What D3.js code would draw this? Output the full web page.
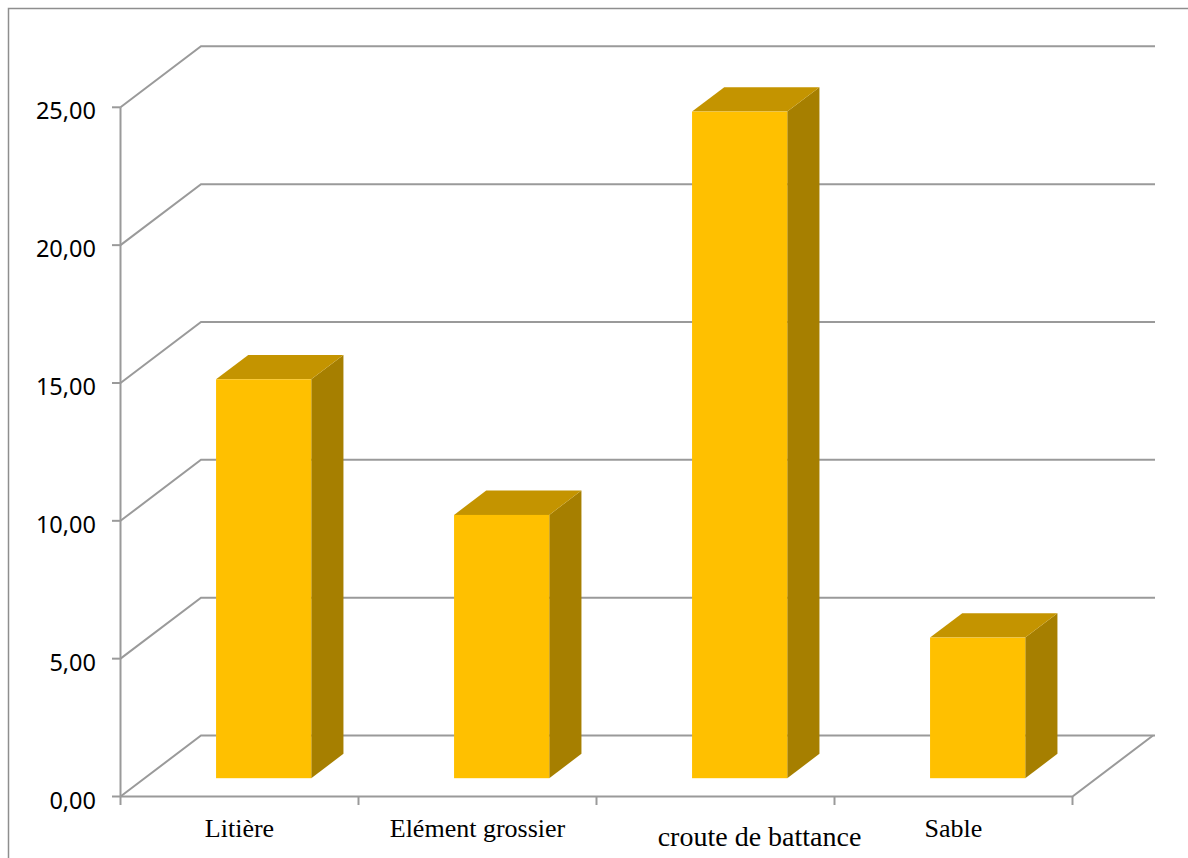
<!DOCTYPE html>
<html>
<head>
<meta charset="utf-8">
<script src="https://cdn.jsdelivr.net/npm/d3@7"></script>
<style>
  html, body { margin: 0; padding: 0; background: #ffffff; }
  svg { display: block; }
</style>
</head>
<body>
<script>
// Soil fractions shown as 3D columns
const categories = ["Litière", "Elément grossier", "croute de battance", "Sable"];
const values = [14.47, 9.55, 24.18, 5.10];
const yTicks = [0, 5, 10, 15, 20, 25];
const yTickLabels = ["0,00", "5,00", "10,00", "15,00", "20,00", "25,00"];

const W = 1188, H = 858;
const svg = d3.select("body").append("svg").attr("width", W).attr("height", H);

// Oblique projection: depth vector from front plane to back wall
const depth = { dx: 80.5, dy: -61 };
const barFront = 0.3, barBack = 0.7;

const x = d3.scaleBand().domain(categories).range([120.5, 1072.5]).padding(0);
const y = d3.scaleLinear().domain([0, 25]).range([796.5, 107.3]);

const grid = "#9a9a9a";
const lineW = 2;

// Outer frame (top and left edges)
svg.append("path")
  .attr("d", `M8.5,${H} L8.5,8.5 L${W},8.5`)
  .attr("fill", "none").attr("stroke", "#8e8e8e").attr("stroke-width", 1.5);

const g = svg.append("g");
const x0 = x.range()[0], x1 = x.range()[1];
const backRight = 1155;

// Gridlines: side wall diagonal + back wall horizontal
yTicks.forEach(t => {
  const yf = y(t);
  const yb = yf + depth.dy;
  g.append("path")
    .attr("d", `M${x0},${yf} L${x0 + depth.dx},${yb} L${backRight},${yb}`)
    .attr("fill", "none").attr("stroke", grid).attr("stroke-width", lineW);
});

// Floor front edge and right edge
g.append("path")
  .attr("d", `M${x0},${y(0)} L${x1},${y(0)} L${x1 + depth.dx},${y(0) + depth.dy}`)
  .attr("fill", "none").attr("stroke", grid).attr("stroke-width", lineW);

// Value axis line
g.append("line")
  .attr("x1", x0).attr("x2", x0).attr("y1", y(25)).attr("y2", y(0))
  .attr("stroke", grid).attr("stroke-width", lineW);

// Value axis ticks and labels
yTicks.forEach((t, i) => {
  g.append("line")
    .attr("x1", x0 - 8.5).attr("x2", x0).attr("y1", y(t)).attr("y2", y(t))
    .attr("stroke", grid).attr("stroke-width", lineW);
  g.append("text")
    .attr("x", 96).attr("y", y(t) + 3)
    .attr("text-anchor", "end").attr("dominant-baseline", "central")
    .attr("font-family", "'Noto Sans', 'Open Sans', sans-serif")
    .attr("font-size", 23.5).attr("fill", "#000")
    .text(yTickLabels[i]);
});

// Category ticks
const catEdges = categories.map(c => x(c)).concat([x1]);
catEdges.forEach(cx => {
  g.append("line")
    .attr("x1", cx).attr("x2", cx).attr("y1", y(0)).attr("y2", y(0) + 8.5)
    .attr("stroke", grid).attr("stroke-width", lineW);
});

// Category labels (the third label is set larger, lower and to the right)
const labelStyle = { "croute de battance": { dx: 44, dy: 9, size: 28 } };
categories.forEach(c => {
  const s = labelStyle[c] || { dx: 0, dy: 0, size: 26 };
  g.append("text")
    .attr("x", x(c) + x.bandwidth() / 2 + s.dx)
    .attr("y", 836.7 + s.dy)
    .attr("text-anchor", "middle")
    .attr("font-family", "'Liberation Serif', 'Times New Roman', serif")
    .attr("font-size", s.size).attr("fill", "#000")
    .text(c);
});

// Columns
const barW = x.bandwidth() * 0.4;
const fOff = { dx: depth.dx * barFront, dy: depth.dy * barFront };
const bOff = { dx: depth.dx * barBack, dy: depth.dy * barBack };
const bars = g.append("g");
categories.forEach((c, i) => {
  const cx = x(c) + x.bandwidth() / 2;
  const L = cx - barW / 2 + fOff.dx, R = cx + barW / 2 + fOff.dx;
  const top = y(values[i]) + fOff.dy, bot = y(0) + fOff.dy;
  const ddx = bOff.dx - fOff.dx, ddy = bOff.dy - fOff.dy;
  // side face
  bars.append("path")
    .attr("d", `M${R},${top} L${R + ddx},${top + ddy} L${R + ddx},${bot + ddy} L${R},${bot} Z`)
    .attr("fill", "#a67f00");
  // top face
  bars.append("path")
    .attr("d", `M${L},${top} L${L + ddx},${top + ddy} L${R + ddx},${top + ddy} L${R},${top} Z`)
    .attr("fill", "#c49400");
  // front face
  bars.append("rect")
    .attr("x", L).attr("y", top).attr("width", barW).attr("height", bot - top)
    .attr("fill", "#ffc000");
});
</script>
</body>
</html>
